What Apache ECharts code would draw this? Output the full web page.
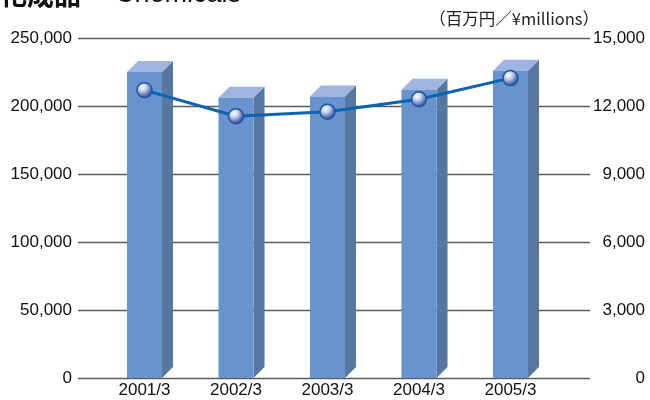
<!DOCTYPE html>
<html>
<head>
<meta charset="utf-8">
<script src="https://cdn.jsdelivr.net/npm/echarts@6/dist/echarts.min.js"></script>
<style>
  html, body { margin: 0; padding: 0; background: #fff; }
  #chart { width: 650px; height: 400px; }
</style>
</head>
<body>
<div id="chart"></div>
<script>
// Fiscal years (March year-end)
var categories = ['2001/3', '2002/3', '2003/3', '2004/3', '2005/3'];
// Net sales, left axis (¥ millions)
var salesValues = [225000, 206000, 207000, 212000, 226000];
// Operating income, right axis (¥ millions)
var incomeValues = [12700, 11550, 11750, 12300, 13230];
var leftTicks = [0, 50000, 100000, 150000, 200000, 250000];
var rightTicks = [0, 3000, 6000, 9000, 12000, 15000];

var FONT = '"Liberation Sans", Arial, "Noto Sans CJK JP", sans-serif';
var fmt = function (v) { return Number(v).toLocaleString('en-US'); };

var chart = echarts.init(document.getElementById('chart'), null, { renderer: 'canvas' });

// 3D-look box: front face, side face, top face
function renderBox(params, api) {
  var x = api.value(0);
  var top = api.coord([x, api.value(1)]);
  var base = api.coord([x, 0]);
  var band = api.size([1, 0])[0];
  var w = band * 0.383;
  var dx = 11, dy = 11;
  var x0 = top[0] - w / 2, x1 = top[0] + w / 2;
  var yt = top[1], yb = base[1];
  return {
    type: 'group',
    children: [
      { type: 'polygon', shape: { points: [[x1, yt], [x1 + dx, yt - dy], [x1 + dx, yb - dy], [x1, yb]] },
        style: { fill: '#56779f' } },
      { type: 'polygon', shape: { points: [[x0, yt], [x0 + dx, yt - dy], [x1 + dx, yt - dy], [x1, yt]] },
        style: { fill: '#9fb5df' } },
      { type: 'rect', shape: { x: x0, y: yt, width: w, height: yb - yt },
        style: { fill: '#6893cc' } }
    ]
  };
}

var sphere = new echarts.graphic.RadialGradient(0.38, 0.32, 0.75, [
  { offset: 0, color: '#ffffff' },
  { offset: 0.3, color: '#cdd6ee' },
  { offset: 0.75, color: '#4a63a8' },
  { offset: 1, color: '#2a4690' }
]);

var option = {
  animation: false,
  backgroundColor: '#ffffff',
  textStyle: { fontFamily: FONT },
  graphic: [
    { type: 'text', left: 0, top: -19,
      style: { text: '化成品', font: 'bold 27px "Noto Sans CJK JP", sans-serif', fill: '#111' } },
    { type: 'text', left: 115, top: -19,
      style: { text: 'Chemicals', font: '27px ' + FONT, fill: '#111' } },
    { type: 'text', right: 51, top: 10,
      style: { text: '（百万円／¥millions）', font: '16.5px "Noto Sans CJK JP", sans-serif', fill: '#222' } }
  ],
  grid: [
    { left: 78, right: 60, top: 38, bottom: 22 },
    { left: 98.75, right: 93.75, top: 38, bottom: 22 }
  ],
  xAxis: [
    { type: 'value', gridIndex: 0, min: 0, max: 1, show: false },
    { type: 'category', gridIndex: 1, data: categories,
      axisLine: { show: false }, axisTick: { show: false },
      axisLabel: { margin: 4, fontSize: 17, color: '#111', fontFamily: FONT } }
  ],
  yAxis: [
    { type: 'value', gridIndex: 0, position: 'left', min: 0, max: 250000, interval: 50000,
      axisLine: { show: false }, axisTick: { show: false },
      axisLabel: { margin: 6, fontSize: 17, color: '#111', fontFamily: FONT,
        formatter: function (v) { return leftTicks.indexOf(v) >= 0 ? fmt(v) : ''; } },
      splitLine: { show: true, lineStyle: { color: '#5c5c5c', width: 1.3 } } },
    { type: 'value', gridIndex: 0, position: 'right', min: 0, max: 15000, interval: 3000,
      axisLine: { show: false }, axisTick: { show: false },
      axisLabel: { align: 'right', margin: 55, fontSize: 17, color: '#111', fontFamily: FONT,
        formatter: function (v) { return rightTicks.indexOf(v) >= 0 ? fmt(v) : ''; } },
      splitLine: { show: false } },
    { type: 'value', gridIndex: 1, min: 0, max: 250000, show: false },
    { type: 'value', gridIndex: 1, min: 0, max: 15000, show: false }
  ],
  series: [
    { type: 'custom', xAxisIndex: 1, yAxisIndex: 2, z: 2,
      renderItem: renderBox,
      data: salesValues.map(function (v, i) { return [i, v]; }) },
    { type: 'line', xAxisIndex: 1, yAxisIndex: 3, z: 5,
      data: incomeValues,
      symbol: 'circle', symbolSize: 15,
      lineStyle: { color: '#0b63b3', width: 3 },
      itemStyle: { color: sphere, borderColor: '#1d55a8', borderWidth: 1.5 } }
  ]
};
chart.setOption(option);
</script>
</body>
</html>
